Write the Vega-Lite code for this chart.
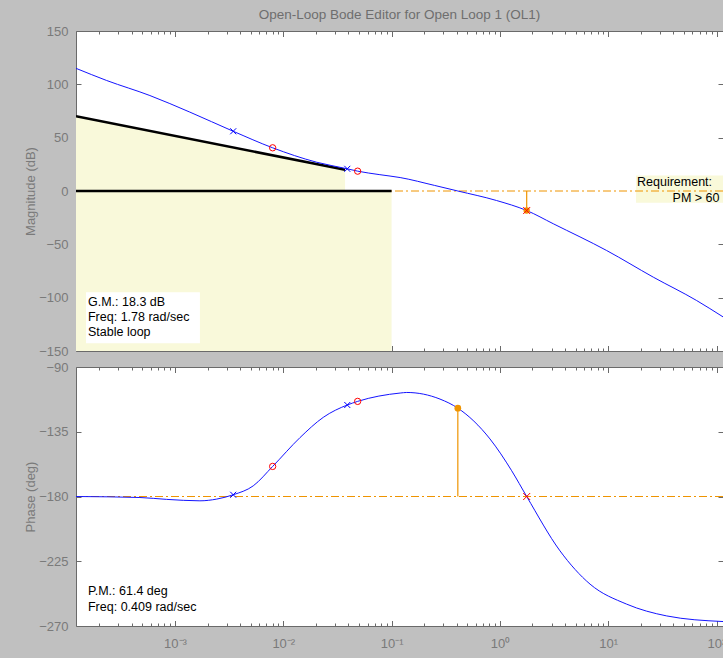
{
  "$schema": "https://vega.github.io/schema/vega-lite/v6.json",
  "background": "#c0c0c0",
  "padding": {"left": 24, "top": 7, "right": 0, "bottom": 10},
  "bounds": "flush",
  "spacing": 16,
  "config": {
    "font": "Liberation Sans",
    "view": {"fill": "white", "stroke": "#6a6a6a", "strokeWidth": 1},
    "axis": {
      "domain": false, "grid": false,
      "labelFont": "Liberation Sans", "labelFontSize": 13, "labelColor": "#7a7a7a",
      "tickColor": "#6a6a6a", "tickWidth": 1,
      "titleFont": "Liberation Sans", "titleFontSize": 13, "titleFontWeight": "normal", "titleColor": "#7a7a7a",
      "labelFlush": false, "labelOverlap": false
    }
  },
  "datasets": {
    "mag": [
      {"w": 0.000122, "db": 115}, {"w": 0.000234, "db": 103.6}, {"w": 0.000587, "db": 89.5},
      {"w": 0.00137, "db": 74}, {"w": 0.00345, "db": 56}, {"w": 0.00798, "db": 40.5},
      {"w": 0.0203, "db": 27}, {"w": 0.039, "db": 20.8}, {"w": 0.0486, "db": 18.6},
      {"w": 0.078, "db": 15.3}, {"w": 0.12, "db": 12.6}, {"w": 0.25, "db": 5.2},
      {"w": 0.409, "db": 0}, {"w": 0.93, "db": -8.9}, {"w": 1.768, "db": -18.3},
      {"w": 3.11, "db": -30.7}, {"w": 9.68, "db": -55.8}, {"w": 26.1, "db": -80.8},
      {"w": 65.6, "db": -102.7}, {"w": 114.8, "db": -118}
    ],
    "phase": [
      {"w": 0.000122, "deg": -180}, {"w": 0.000475, "deg": -180.7}, {"w": 0.000838, "deg": -182},
      {"w": 0.0017, "deg": -183}, {"w": 0.00243, "deg": -181.8}, {"w": 0.00345, "deg": -178.8},
      {"w": 0.00528, "deg": -172.6}, {"w": 0.00798, "deg": -159.1}, {"w": 0.0143, "deg": -139},
      {"w": 0.0234, "deg": -125}, {"w": 0.039, "deg": -116.4}, {"w": 0.0486, "deg": -113.9},
      {"w": 0.12, "deg": -108.1}, {"w": 0.138, "deg": -107.7}, {"w": 0.28, "deg": -112.3},
      {"w": 0.409, "deg": -118.6}, {"w": 0.81, "deg": -140}, {"w": 1.285, "deg": -162.1},
      {"w": 1.768, "deg": -180}, {"w": 3.59, "deg": -217.8}, {"w": 6.8, "deg": -240.9},
      {"w": 14.8, "deg": -254.8}, {"w": 34.7, "deg": -263}, {"w": 114.8, "deg": -266.9}
    ],
    "poles": [{"w": 0.00345, "db": 56, "deg": -178.8}, {"w": 0.039, "db": 20.8, "deg": -116.4}],
    "zeros": [{"w": 0.00798, "db": 40.5, "deg": -159.1}, {"w": 0.0486, "db": 18.6, "deg": -113.9}],
    "gm": [{"w": 1.768, "db": -18.3, "ref": 0, "deg": -180}],
    "pm": [{"w": 0.409, "deg": -118.6, "ref": -180}],
    "zeroline": [{"db": 0}],
    "phaseline": [{"deg": -180}],
    "slope": [{"w": 0.000122, "db": 70}, {"w": 0.0372, "db": 20}],
    "flat": [{"w": 0.000122, "db": 0}, {"w": 0.1, "db": 0}],
    "shade": [{"w1": 0.000122, "w2": 0.1, "lo": -150, "hi": 0}],
    "reqbox": [{"w1": 18.07, "w2": 114.8, "lo": -11.1, "hi": 14.5}],
    "gmbox": [{"w1": 0.000151, "w2": 0.0017, "lo": -142.7, "hi": -94.9}],
    "gmtext": [
      {"w": 0.0001574, "db": -104.2, "t": "G.M.: 18.3 dB"},
      {"w": 0.0001574, "db": -118.3, "t": "Freq: 1.78 rad/sec"},
      {"w": 0.0001574, "db": -132.4, "t": "Stable loop"}
    ],
    "req1": [{"w": 18.45, "db": 8.25, "t": "Requirement:"}],
    "req2": [{"w": 106.6, "db": -6.4, "t": "PM > 60"}],
    "pmtext": [
      {"w": 0.0001574, "deg": -245.6, "t": "P.M.: 61.4 deg"},
      {"w": 0.0001574, "deg": -256.7, "t": "Freq: 0.409 rad/sec"}
    ]
  },
  "vconcat": [
    {
      "width": 647, "height": 320,
      "title": {"text": "Open-Loop Bode Editor for Open Loop 1 (OL1)", "frame": "group", "anchor": "middle", "offset": 3.5, "fontSize": 13.5, "fontWeight": "normal", "color": "#6e6e6e", "font": "Liberation Sans"},
      "resolve": {"axis": {"x": "independent", "y": "independent"}},
      "layer": [
        {
          "data": {"name": "shade"},
          "mark": {"type": "rect", "fill": "#f9f9da", "clip": true},
          "encoding": {
            "x": {"field": "w1", "type": "quantitative", "scale": {"type": "log", "domain": [0.000122, 114.8]},
              "axis": {"orient": "top", "labels": false, "title": null,
                "values": [0.0002,0.0003,0.0004,0.0005,0.0006,0.0007,0.0008,0.0009,0.001,0.002,0.003,0.004,0.005,0.006,0.007,0.008,0.009,0.01,0.02,0.03,0.04,0.05,0.06,0.07,0.08,0.09,0.1,0.2,0.3,0.4,0.5,0.6,0.7,0.8,0.9,1,2,3,4,5,6,7,8,9,10,20,30,40,50,60,70,80,90,100],
                "tickSize": {"condition": {"test": "indexof([0.001,0.01,0.1,1,10,100], datum.value) >= 0", "value": -5.5}, "value": -3}}},
            "x2": {"field": "w2"},
            "y": {"field": "lo", "type": "quantitative", "scale": {"domain": [-150, 150], "nice": false, "zero": false},
              "axis": {"orient": "right", "labels": false, "title": null, "values": [-150,-100,-50,0,50,100,150], "tickSize": -5}},
            "y2": {"field": "hi"}
          }
        },
        {
          "data": {"name": "slope"},
          "mark": {"type": "area", "fill": "#f9f9da", "clip": true},
          "encoding": {
            "x": {"field": "w", "type": "quantitative", "scale": {"type": "log", "domain": [0.000122, 114.8]}, "axis": null},
            "y": {"field": "db", "type": "quantitative", "scale": {"domain": [-150, 150], "nice": false, "zero": false}, "axis": null},
            "y2": {"datum": 0}
          }
        },
        {
          "data": {"name": "reqbox"},
          "mark": {"type": "rect", "fill": "#f9f9da", "clip": true},
          "encoding": {
            "x": {"field": "w1", "type": "quantitative", "scale": {"type": "log", "domain": [0.000122, 114.8]}, "axis": null},
            "x2": {"field": "w2"},
            "y": {"field": "lo", "type": "quantitative", "scale": {"domain": [-150, 150], "nice": false, "zero": false}, "axis": null},
            "y2": {"field": "hi"}
          }
        },
        {
          "data": {"name": "gmbox"},
          "mark": {"type": "rect", "fill": "white", "clip": true},
          "encoding": {
            "x": {"field": "w1", "type": "quantitative", "scale": {"type": "log", "domain": [0.000122, 114.8]}, "axis": null},
            "x2": {"field": "w2"},
            "y": {"field": "lo", "type": "quantitative", "scale": {"domain": [-150, 150], "nice": false, "zero": false}, "axis": null},
            "y2": {"field": "hi"}
          }
        },
        {
          "data": {"name": "zeroline"},
          "mark": {"type": "rule", "stroke": "#ef9400", "strokeWidth": 1, "strokeDash": [8, 3, 2, 3]},
          "encoding": {
            "y": {"field": "db", "type": "quantitative", "scale": {"domain": [-150, 150], "nice": false, "zero": false}, "axis": null}
          }
        },
        {
          "data": {"name": "slope"},
          "mark": {"type": "line", "stroke": "black", "strokeWidth": 2.5, "clip": true},
          "encoding": {
            "x": {"field": "w", "type": "quantitative", "scale": {"type": "log", "domain": [0.000122, 114.8]}, "axis": null},
            "y": {"field": "db", "type": "quantitative", "scale": {"domain": [-150, 150], "nice": false, "zero": false}, "axis": null}
          }
        },
        {
          "data": {"name": "flat"},
          "mark": {"type": "line", "stroke": "black", "strokeWidth": 2.5, "clip": true},
          "encoding": {
            "x": {"field": "w", "type": "quantitative", "scale": {"type": "log", "domain": [0.000122, 114.8]}, "axis": null},
            "y": {"field": "db", "type": "quantitative", "scale": {"domain": [-150, 150], "nice": false, "zero": false}, "axis": null}
          }
        },
        {
          "data": {"name": "mag"},
          "mark": {"type": "line", "stroke": "#1414ff", "strokeWidth": 1, "interpolate": "monotone", "clip": true},
          "encoding": {
            "x": {"field": "w", "type": "quantitative", "scale": {"type": "log", "domain": [0.000122, 114.8]},
              "axis": {"orient": "bottom", "labels": false, "title": null,
                "values": [0.0002,0.0003,0.0004,0.0005,0.0006,0.0007,0.0008,0.0009,0.001,0.002,0.003,0.004,0.005,0.006,0.007,0.008,0.009,0.01,0.02,0.03,0.04,0.05,0.06,0.07,0.08,0.09,0.1,0.2,0.3,0.4,0.5,0.6,0.7,0.8,0.9,1,2,3,4,5,6,7,8,9,10,20,30,40,50,60,70,80,90,100],
                "tickSize": {"condition": {"test": "indexof([0.001,0.01,0.1,1,10,100], datum.value) >= 0", "value": -5.5}, "value": -3}}},
            "y": {"field": "db", "type": "quantitative", "scale": {"domain": [-150, 150], "nice": false, "zero": false},
              "axis": {"orient": "left", "title": "Magnitude (dB)", "values": [-150,-100,-50,0,50,100,150], "tickSize": -5, "labelPadding": 13, "titlePadding": 1}}
          }
        },
        {
          "data": {"name": "gm"},
          "mark": {"type": "rule", "stroke": "#ef9400", "strokeWidth": 1.2},
          "encoding": {
            "x": {"field": "w", "type": "quantitative", "scale": {"type": "log", "domain": [0.000122, 114.8]}, "axis": null},
            "y": {"field": "ref", "type": "quantitative", "scale": {"domain": [-150, 150], "nice": false, "zero": false}, "axis": null},
            "y2": {"field": "db"}
          }
        },
        {
          "data": {"name": "gm"},
          "mark": {"type": "point", "shape": "circle", "filled": true, "fill": "#ef9400", "size": 40, "opacity": 1},
          "encoding": {
            "x": {"field": "w", "type": "quantitative", "scale": {"type": "log", "domain": [0.000122, 114.8]}, "axis": null},
            "y": {"field": "db", "type": "quantitative", "scale": {"domain": [-150, 150], "nice": false, "zero": false}, "axis": null}
          }
        },
        {
          "data": {"name": "gm"},
          "mark": {"type": "point", "shape": "M-1,-1L1,1M-1,1L1,-1", "filled": false, "stroke": "#ff0000", "strokeWidth": 1, "size": 49, "opacity": 1},
          "encoding": {
            "x": {"field": "w", "type": "quantitative", "scale": {"type": "log", "domain": [0.000122, 114.8]}, "axis": null},
            "y": {"field": "db", "type": "quantitative", "scale": {"domain": [-150, 150], "nice": false, "zero": false}, "axis": null}
          }
        },
        {
          "data": {"name": "poles"},
          "mark": {"type": "point", "shape": "M-1,-1L1,1M-1,1L1,-1", "filled": false, "stroke": "#0000ff", "strokeWidth": 1, "size": 36, "opacity": 1},
          "encoding": {
            "x": {"field": "w", "type": "quantitative", "scale": {"type": "log", "domain": [0.000122, 114.8]}, "axis": null},
            "y": {"field": "db", "type": "quantitative", "scale": {"domain": [-150, 150], "nice": false, "zero": false}, "axis": null}
          }
        },
        {
          "data": {"name": "zeros"},
          "mark": {"type": "point", "shape": "circle", "filled": false, "stroke": "#ff0000", "strokeWidth": 1, "size": 40, "opacity": 1},
          "encoding": {
            "x": {"field": "w", "type": "quantitative", "scale": {"type": "log", "domain": [0.000122, 114.8]}, "axis": null},
            "y": {"field": "db", "type": "quantitative", "scale": {"domain": [-150, 150], "nice": false, "zero": false}, "axis": null}
          }
        },
        {
          "data": {"name": "gmtext"},
          "mark": {"type": "text", "align": "left", "baseline": "middle", "fontSize": 12.5, "color": "black", "font": "Liberation Sans"},
          "encoding": {
            "x": {"field": "w", "type": "quantitative", "scale": {"type": "log", "domain": [0.000122, 114.8]}, "axis": null},
            "y": {"field": "db", "type": "quantitative", "scale": {"domain": [-150, 150], "nice": false, "zero": false}, "axis": null},
            "text": {"field": "t"}
          }
        },
        {
          "data": {"name": "req1"},
          "mark": {"type": "text", "align": "left", "baseline": "middle", "fontSize": 12.5, "color": "black", "font": "Liberation Sans"},
          "encoding": {
            "x": {"field": "w", "type": "quantitative", "scale": {"type": "log", "domain": [0.000122, 114.8]}, "axis": null},
            "y": {"field": "db", "type": "quantitative", "scale": {"domain": [-150, 150], "nice": false, "zero": false}, "axis": null},
            "text": {"field": "t"}
          }
        },
        {
          "data": {"name": "req2"},
          "mark": {"type": "text", "align": "right", "baseline": "middle", "fontSize": 12.5, "color": "black", "font": "Liberation Sans"},
          "encoding": {
            "x": {"field": "w", "type": "quantitative", "scale": {"type": "log", "domain": [0.000122, 114.8]}, "axis": null},
            "y": {"field": "db", "type": "quantitative", "scale": {"domain": [-150, 150], "nice": false, "zero": false}, "axis": null},
            "text": {"field": "t"}
          }
        }
      ]
    },
    {
      "width": 647, "height": 259,
      "resolve": {"axis": {"x": "independent", "y": "independent"}},
      "layer": [
        {
          "data": {"name": "phaseline"},
          "mark": {"type": "rule", "stroke": "#ef9400", "strokeWidth": 1, "strokeDash": [8, 3, 2, 3]},
          "encoding": {
            "y": {"field": "deg", "type": "quantitative", "scale": {"domain": [-270, -90], "nice": false, "zero": false}, "axis": null}
          }
        },
        {
          "data": {"name": "pm"},
          "mark": {"type": "rule", "stroke": "#ef9400", "strokeWidth": 1.2},
          "encoding": {
            "x": {"field": "w", "type": "quantitative", "scale": {"type": "log", "domain": [0.000122, 114.8]},
              "axis": {"orient": "top", "labels": false, "title": null,
                "values": [0.0002,0.0003,0.0004,0.0005,0.0006,0.0007,0.0008,0.0009,0.001,0.002,0.003,0.004,0.005,0.006,0.007,0.008,0.009,0.01,0.02,0.03,0.04,0.05,0.06,0.07,0.08,0.09,0.1,0.2,0.3,0.4,0.5,0.6,0.7,0.8,0.9,1,2,3,4,5,6,7,8,9,10,20,30,40,50,60,70,80,90,100],
                "tickSize": {"condition": {"test": "indexof([0.001,0.01,0.1,1,10,100], datum.value) >= 0", "value": -5.5}, "value": -3}}},
            "y": {"field": "ref", "type": "quantitative", "scale": {"domain": [-270, -90], "nice": false, "zero": false},
              "axis": {"orient": "right", "labels": false, "title": null, "values": [-270,-225,-180,-135,-90], "tickSize": -5}},
            "y2": {"field": "deg"}
          }
        },
        {
          "data": {"name": "phase"},
          "mark": {"type": "line", "stroke": "#1414ff", "strokeWidth": 1, "interpolate": "monotone", "clip": true},
          "encoding": {
            "x": {"field": "w", "type": "quantitative", "scale": {"type": "log", "domain": [0.000122, 114.8]},
              "axis": {"orient": "bottom", "title": null, "labelPadding": 17, "labelBaseline": "top",
                "values": [0.0002,0.0003,0.0004,0.0005,0.0006,0.0007,0.0008,0.0009,0.001,0.002,0.003,0.004,0.005,0.006,0.007,0.008,0.009,0.01,0.02,0.03,0.04,0.05,0.06,0.07,0.08,0.09,0.1,0.2,0.3,0.4,0.5,0.6,0.7,0.8,0.9,1,2,3,4,5,6,7,8,9,10,20,30,40,50,60,70,80,90,100],
                "labelExpr": "datum.value == 0.001 ? '10⁻³' : datum.value == 0.01 ? '10⁻²' : datum.value == 0.1 ? '10⁻¹' : datum.value == 1 ? '10⁰' : datum.value == 10 ? '10¹' : datum.value == 100 ? '10²' : ''",
                "tickSize": {"condition": {"test": "indexof([0.001,0.01,0.1,1,10,100], datum.value) >= 0", "value": -5.5}, "value": -3}}},
            "y": {"field": "deg", "type": "quantitative", "scale": {"domain": [-270, -90], "nice": false, "zero": false},
              "axis": {"orient": "left", "title": "Phase (deg)", "values": [-270,-225,-180,-135,-90], "tickSize": -5, "labelPadding": 13, "titlePadding": 1}}
          }
        },
        {
          "data": {"name": "pm"},
          "mark": {"type": "point", "shape": "circle", "filled": true, "fill": "#ef9400", "size": 45, "opacity": 1},
          "encoding": {
            "x": {"field": "w", "type": "quantitative", "scale": {"type": "log", "domain": [0.000122, 114.8]}, "axis": null},
            "y": {"field": "deg", "type": "quantitative", "scale": {"domain": [-270, -90], "nice": false, "zero": false}, "axis": null}
          }
        },
        {
          "data": {"name": "gm"},
          "mark": {"type": "point", "shape": "M-1,-1L1,1M-1,1L1,-1", "filled": false, "stroke": "#ff0000", "strokeWidth": 1, "size": 49, "opacity": 1},
          "encoding": {
            "x": {"field": "w", "type": "quantitative", "scale": {"type": "log", "domain": [0.000122, 114.8]}, "axis": null},
            "y": {"field": "deg", "type": "quantitative", "scale": {"domain": [-270, -90], "nice": false, "zero": false}, "axis": null}
          }
        },
        {
          "data": {"name": "poles"},
          "mark": {"type": "point", "shape": "M-1,-1L1,1M-1,1L1,-1", "filled": false, "stroke": "#0000ff", "strokeWidth": 1, "size": 36, "opacity": 1},
          "encoding": {
            "x": {"field": "w", "type": "quantitative", "scale": {"type": "log", "domain": [0.000122, 114.8]}, "axis": null},
            "y": {"field": "deg", "type": "quantitative", "scale": {"domain": [-270, -90], "nice": false, "zero": false}, "axis": null}
          }
        },
        {
          "data": {"name": "zeros"},
          "mark": {"type": "point", "shape": "circle", "filled": false, "stroke": "#ff0000", "strokeWidth": 1, "size": 40, "opacity": 1},
          "encoding": {
            "x": {"field": "w", "type": "quantitative", "scale": {"type": "log", "domain": [0.000122, 114.8]}, "axis": null},
            "y": {"field": "deg", "type": "quantitative", "scale": {"domain": [-270, -90], "nice": false, "zero": false}, "axis": null}
          }
        },
        {
          "data": {"name": "pmtext"},
          "mark": {"type": "text", "align": "left", "baseline": "middle", "fontSize": 12.5, "color": "black", "font": "Liberation Sans"},
          "encoding": {
            "x": {"field": "w", "type": "quantitative", "scale": {"type": "log", "domain": [0.000122, 114.8]}, "axis": null},
            "y": {"field": "deg", "type": "quantitative", "scale": {"domain": [-270, -90], "nice": false, "zero": false}, "axis": null},
            "text": {"field": "t"}
          }
        }
      ]
    }
  ]
}
